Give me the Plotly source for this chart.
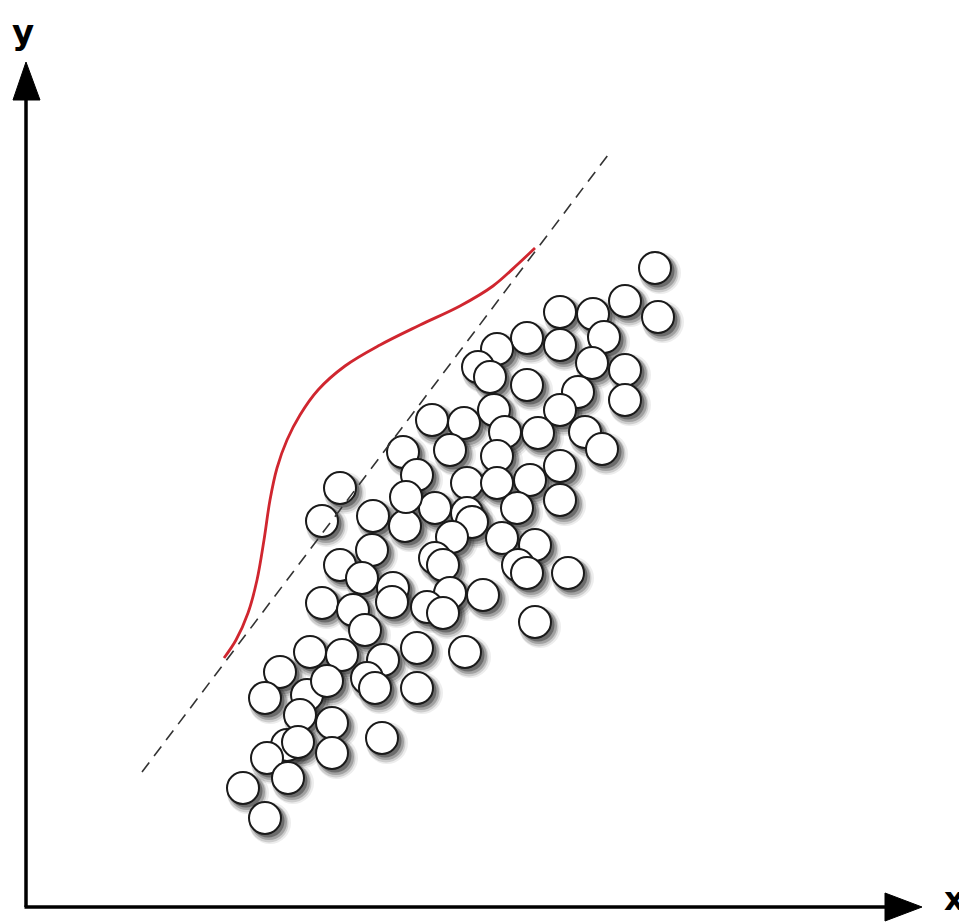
import plotly.graph_objects as go

W, H = 967, 923
PAD = 8  # page body margin in the browser

# circle centres (x, y) in chart units (origin bottom-left of picture)
pts_x = [655, 625, 658, 593, 560, 604, 527, 497, 560, 592, 625, 478, 490, 527, 578, 625,
         560, 494, 432, 464, 505, 538, 585, 602, 403, 450, 497, 417, 467, 497, 530, 560,
         560, 340, 322, 373, 405, 435, 406, 467, 517, 472, 452, 502, 535, 518, 527, 568,
         372, 340, 362, 393, 435, 443, 450, 322, 353, 392, 483, 427, 443, 535, 365, 417,
         465, 310, 342, 383, 280, 307, 327, 367, 375, 417, 265, 300, 332, 382, 287, 267,
         298, 332, 288, 243, 265]
pts_y_img = [268, 301, 317, 314, 312, 337, 338, 349, 345, 363, 370, 367, 377, 385, 392, 400,
             410, 410, 420, 423, 432, 433, 432, 449, 452, 450, 456, 475, 483, 483, 480, 466,
             500, 488, 521, 516, 526, 508, 497, 513, 508, 522, 537, 538, 545, 565, 573, 573,
             550, 565, 578, 588, 558, 565, 593, 603, 610, 602, 595, 607, 613, 622, 630, 648,
             652, 652, 655, 660, 672, 695, 681, 678, 688, 688, 698, 715, 723, 738, 745, 758,
             742, 753, 778, 788, 818]
pts_y = [H - v for v in pts_y_img]

# dashed reference line end points
line_x = [142, 608]
line_y = [H - 772, H - 155]

# red curve
curve_x = [224, 236, 248, 257, 264, 270, 277, 287, 300, 318, 345, 380, 420, 460, 493, 518, 535]
curve_y_img = [658, 640, 613, 580, 540, 500, 468, 440, 415, 390, 366, 345, 325, 306, 286, 264, 248]
curve_y = [H - v for v in curve_y_img]

fig = go.Figure()

# shadows (soft, offset to lower-right)
for dx, dy, size, op in [(5, -5, 42, 0.08), (4, -5, 39, 0.15), (4, -4, 36, 0.25), (3, -3, 33, 0.40)]:
    fig.add_trace(go.Scatter(
        x=[v + dx for v in pts_x], y=[v + dy for v in pts_y], mode="markers",
        marker=dict(size=size, color="rgba(30,30,30,%s)" % op, line=dict(width=0)),
        hoverinfo="skip", showlegend=False))

fig.add_trace(go.Scatter(
    x=pts_x, y=pts_y, mode="markers",
    marker=dict(size=32, color="white", line=dict(width=2, color="#1a1a1a")),
    showlegend=False))

fig.add_trace(go.Scatter(x=line_x, y=line_y, mode="lines",
                         line=dict(color="#333333", width=1.6, dash="12px,8px"),
                         showlegend=False))

fig.add_trace(go.Scatter(x=curve_x, y=curve_y, mode="lines",
                         line=dict(color="#d0262f", width=2.8, shape="spline", smoothing=1.0),
                         showlegend=False))

# axes with arrows
ax_x0, ax_y0 = 26, H - 907
shapes = [
    dict(type="line", x0=ax_x0, y0=ax_y0, x1=ax_x0, y1=H - 98, line=dict(color="black", width=3.5)),
    dict(type="line", x0=ax_x0 - 1.5, y0=ax_y0, x1=888, y1=ax_y0, line=dict(color="black", width=3.5)),
    dict(type="path", path=f"M {ax_x0} {H-62} L {ax_x0-13} {H-100} L {ax_x0+14} {H-100} Z",
         fillcolor="black", line=dict(color="black", width=1)),
    dict(type="path", path=f"M 922 {ax_y0} L 885 {ax_y0+14} L 885 {ax_y0-14} Z",
         fillcolor="black", line=dict(color="black", width=1)),
]
for s in shapes:
    s.update(xref="x", yref="y", layer="above")

fig.update_layout(
    width=W - PAD, height=H - PAD, margin=dict(l=0, r=0, t=0, b=0),
    plot_bgcolor="white", paper_bgcolor="white",
    xaxis=dict(range=[PAD, W], visible=False, fixedrange=True),
    yaxis=dict(range=[0, H - PAD], visible=False, fixedrange=True),
    shapes=shapes,
    annotations=[
        dict(x=23, y=H - 32, text="<b>y</b>", showarrow=False, xref="x", yref="y",
             font=dict(family="DejaVu Sans", size=34, color="black")),
        dict(x=954, y=H - 899, text="<b>x</b>", showarrow=False, xref="x", yref="y",
             font=dict(family="DejaVu Sans", size=32, color="black")),
    ],
)

fig.write_html("out.html")
